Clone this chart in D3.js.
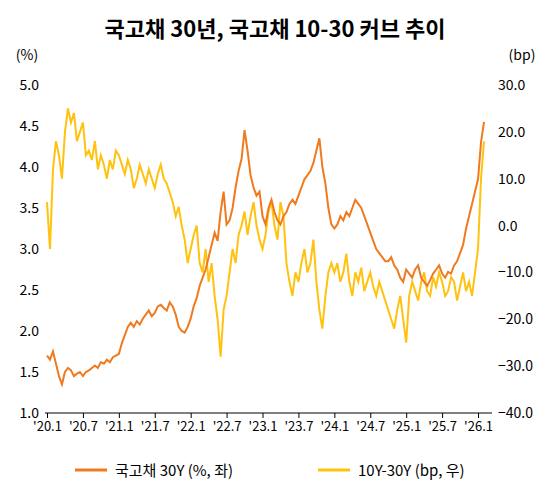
<!DOCTYPE html>
<html><head><meta charset="utf-8">
<script src="https://cdn.jsdelivr.net/npm/d3@7"></script>
<style>body{margin:0;background:#fff}text{font-family:"Noto Sans CJK KR","Noto Sans",sans-serif}</style>
</head><body><svg id="c" width="551" height="497"></svg>
<script>
const title = "국고채 30년, 국고채 10-30 커브 추이";
const xTickLabels = ["'20.1","'20.7","'21.1","'21.7","'22.1","'22.7","'23.1","'23.7","'24.1","'24.7","'25.1","'25.7","'26.1"];
const leftTicks = [1.0,1.5,2.0,2.5,3.0,3.5,4.0,4.5,5.0];
const rightTicks = [-40,-30,-20,-10,0,10,20,30];
const seriesNames = ["국고채 30Y (%, 좌)","10Y-30Y (bp, 우)"];
const yield30 = [
1.70,1.65,1.75,1.60,1.45,1.35,1.50,1.55,1.52,1.45,1.48,1.50,1.45,1.50,1.52,1.55,1.58,1.55,1.62,1.60,1.65,1.62,1.68,1.70,
1.72,1.85,1.95,2.05,2.10,2.05,2.12,2.08,2.15,2.20,2.25,2.18,2.22,2.30,2.32,2.28,2.25,2.35,2.30,2.20,2.05,2.00,1.98,2.05,
2.15,2.30,2.40,2.55,2.65,2.75,2.90,3.05,3.20,3.10,3.45,3.70,3.30,3.35,3.50,3.75,3.95,4.10,4.45,4.20,3.90,3.75,3.65,3.70,
3.40,3.30,3.50,3.60,3.45,3.35,3.30,3.40,3.45,3.55,3.60,3.55,3.65,3.75,3.85,3.90,3.95,4.05,4.20,4.35,4.00,3.80,3.50,3.30,
3.25,3.30,3.40,3.35,3.45,3.40,3.50,3.60,3.55,3.50,3.40,3.30,3.20,3.10,3.00,2.95,2.90,2.85,2.85,2.90,2.80,2.75,2.65,2.60,
2.75,2.70,2.65,2.75,2.80,2.65,2.60,2.55,2.62,2.70,2.75,2.80,2.70,2.65,2.72,2.70,2.80,2.85,2.95,3.05,3.25,3.40,3.55,3.70,
3.85,4.30,4.55];
const spread = [
5,-5,12,18,15,10,20,25,22,24,18,20,22,15,16,14,18,12,15,13,10,14,12,16,
15,13,11,14,12,8,10,13,11,9,12,10,8,11,13,10,9,7,5,2,4,0,-3,-8,
-5,-2,0,-8,-10,-5,-12,-8,-15,-20,-28,-18,-15,-10,-5,-8,-2,0,3,-2,2,5,0,-3,
-5,-2,3,5,0,-3,5,2,-8,-12,-15,-10,-12,-8,-5,-10,-8,-3,-12,-18,-22,-15,-10,-8,
-10,-8,-12,-10,-6,-12,-15,-10,-12,-9,-14,-12,-10,-13,-15,-12,-14,-16,-18,-20,-22,-18,-15,-20,
-25,-15,-12,-14,-16,-12,-10,-14,-15,-11,-13,-10,-12,-15,-14,-11,-12,-16,-13,-10,-14,-12,-15,-10,
-5,10,18];
const colors = ["#F07A1E","#FFC20E"];

const svg = d3.select("#c");
const m = {l:45,r:492,t:85,b:413};
const x = d3.scaleLinear().domain([0,74]).range([47,490]);
const yL = d3.scaleLinear().domain([1,5]).range([m.b,m.t]);
const yR = d3.scaleLinear().domain([-40,30]).range([m.b,m.t]);

svg.append("text").attr("x",275).attr("y",37).attr("text-anchor","middle")
  .attr("font-size",22).attr("font-weight","bold").text(title);
svg.append("text").attr("x",27).attr("y",60).attr("text-anchor","middle").attr("font-size",14).text("(%)");
svg.append("text").attr("x",522).attr("y",60).attr("text-anchor","middle").attr("font-size",14).text("(bp)");

const gl = svg.append("g").attr("transform",`translate(${m.l},0)`)
  .call(d3.axisLeft(yL).tickValues(leftTicks).tickFormat(d3.format(".1f")).tickSize(0).tickPadding(6));
gl.select(".domain").remove();
const gr = svg.append("g").attr("transform",`translate(${m.r},0)`)
  .call(d3.axisRight(yR).tickValues(rightTicks).tickFormat(d3.format(".1f")).tickSize(0).tickPadding(6));
gr.select(".domain").remove();
const gb = svg.append("g").attr("transform",`translate(0,${m.b})`)
  .call(d3.axisBottom(x).tickValues(d3.range(xTickLabels.length).map(i=>i*6)).tickFormat((d,i)=>xTickLabels[i]).tickSize(5).tickPadding(4));
gb.select(".domain").attr("d",`M${m.l},0H${m.r}`);
[gl,gr,gb].forEach(g=>g.selectAll("text").attr("font-size",14).attr("fill","#000").style("font-family","Noto Sans CJK KR"));
gb.selectAll("text").attr("font-size",13);

const tx = i=>x(i*0.5);
svg.append("path").datum(spread).attr("fill","none").attr("stroke",colors[1]).attr("stroke-width",2)
  .attr("d",d3.line().x((d,i)=>tx(i)).y(d=>yR(d)));
svg.append("path").datum(yield30).attr("fill","none").attr("stroke",colors[0]).attr("stroke-width",2)
  .attr("d",d3.line().x((d,i)=>tx(i)).y(d=>yL(d)));

const lg = [[75,seriesNames[0]],[318,seriesNames[1]]];
lg.forEach(([lx,t],i)=>{
  svg.append("line").attr("x1",lx).attr("x2",lx+32).attr("y1",470).attr("y2",470).attr("stroke",colors[i]).attr("stroke-width",3);
  svg.append("text").attr("x",lx+40).attr("y",476).attr("font-size",15).text(t);
});
</script></body></html>
